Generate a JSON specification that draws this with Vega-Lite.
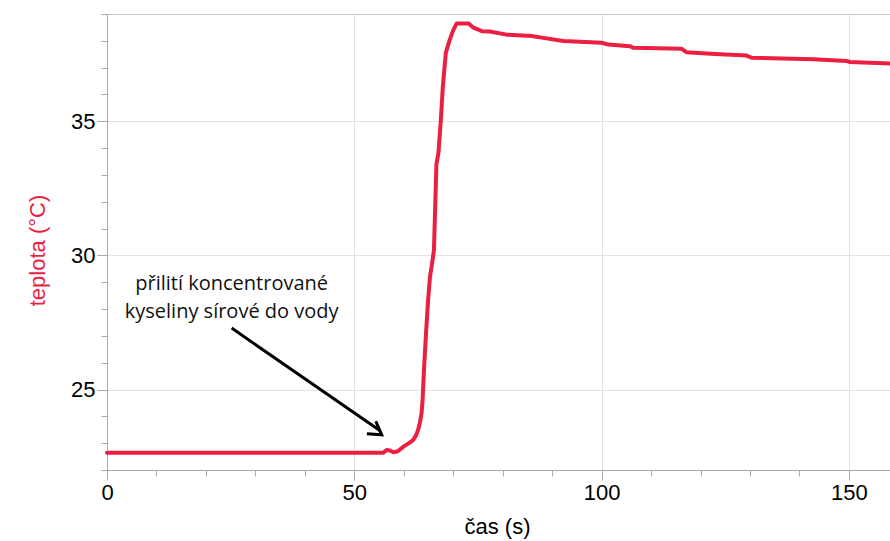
{
  "$schema": "https://vega.github.io/schema/vega-lite/v6.json",
  "autosize": "none",
  "width": 783,
  "height": 456,
  "padding": {"left": 107, "top": 14, "right": 0, "bottom": 71},
  "background": "white",
  "config": {
    "view": {"stroke": "#c8c8c8", "strokeWidth": 1},
    "axis": {
      "labelFont": "Liberation Sans",
      "titleFont": "Liberation Sans",
      "labelFontSize": 22,
      "titleFontSize": 22,
      "labelColor": "#000000",
      "labelFlush": false,
      "domainColor": "#a8a8a8",
      "tickColor": "#a8a8a8",
      "gridColor": "#e2e2e2",
      "titleFontWeight": "normal"
    }
  },
  "resolve": {"axis": {"x": "independent", "y": "independent"}},
  "layer": [
    {
      "data": {"values": [
        {"t": 0, "temp": 22.64},
        {"t": 55.8, "temp": 22.64},
        {"t": 56.6, "temp": 22.75},
        {"t": 57.3, "temp": 22.72},
        {"t": 57.9, "temp": 22.66},
        {"t": 58.8, "temp": 22.7},
        {"t": 60.0, "temp": 22.88},
        {"t": 61.2, "temp": 23.02},
        {"t": 61.9, "temp": 23.12},
        {"t": 62.5, "temp": 23.3},
        {"t": 62.9, "temp": 23.5},
        {"t": 63.3, "temp": 23.8},
        {"t": 63.6, "temp": 24.13},
        {"t": 63.8, "temp": 24.6},
        {"t": 63.9, "temp": 25.0},
        {"t": 64.1, "temp": 25.8},
        {"t": 64.5, "temp": 27.1},
        {"t": 64.9, "temp": 28.3},
        {"t": 65.3, "temp": 29.2},
        {"t": 65.8, "temp": 29.8},
        {"t": 66.1, "temp": 30.2},
        {"t": 66.35, "temp": 31.8},
        {"t": 66.6, "temp": 33.4},
        {"t": 67.0, "temp": 33.8},
        {"t": 67.5, "temp": 35.06},
        {"t": 67.9, "temp": 36.3},
        {"t": 68.5, "temp": 37.55},
        {"t": 69.2, "temp": 37.99},
        {"t": 70.0, "temp": 38.4},
        {"t": 70.7, "temp": 38.65},
        {"t": 73.1, "temp": 38.65},
        {"t": 74.1, "temp": 38.49},
        {"t": 75.8, "temp": 38.36},
        {"t": 77.4, "temp": 38.35},
        {"t": 80.8, "temp": 38.23},
        {"t": 84.9, "temp": 38.19},
        {"t": 85.5, "temp": 38.19},
        {"t": 88.2, "temp": 38.11},
        {"t": 92.3, "temp": 37.99},
        {"t": 100.0, "temp": 37.93},
        {"t": 101.4, "temp": 37.86},
        {"t": 105.7, "temp": 37.8},
        {"t": 106.4, "temp": 37.74},
        {"t": 116.2, "temp": 37.7},
        {"t": 117.2, "temp": 37.57},
        {"t": 122.9, "temp": 37.51},
        {"t": 129.3, "temp": 37.45},
        {"t": 130.3, "temp": 37.37},
        {"t": 142.8, "temp": 37.31},
        {"t": 149.5, "temp": 37.25},
        {"t": 150.2, "temp": 37.21},
        {"t": 158.3, "temp": 37.15}
      ]},
      "mark": {"type": "line", "color": "#ea1f41", "strokeWidth": 4, "strokeJoin": "round", "strokeCap": "round"},
      "encoding": {
        "x": {
          "field": "t", "type": "quantitative",
          "scale": {"domain": [0, 158.3], "nice": false, "zero": false},
          "axis": {
            "orient": "bottom",
            "title": "čas (s)",
            "titleColor": "#000000",
            "values": [0, 50, 100, 150],
            "tickSize": 10,
            "grid": true,
            "labelPadding": 2,
            "titleX": 390,
            "titleY": 63,
            "titleAlign": "center",
            "titleBaseline": "alphabetic"
          }
        },
        "y": {
          "field": "temp", "type": "quantitative",
          "scale": {"domain": [22, 39], "nice": false, "zero": false},
          "axis": {
            "orient": "left",
            "title": "teplota (°C)",
            "titleColor": "#ea1f41",
            "values": [25, 30, 35],
            "tickSize": 10,
            "grid": true,
            "labelPadding": 2,
            "titleAngle": -90,
            "titleX": -70,
            "titleY": 236,
            "titleAlign": "center",
            "titleBaseline": "middle"
          }
        }
      }
    },
    {
      "data": {"values": [{"x1": 25.2, "y1": 27.29, "x2": 55.3, "y2": 23.45}]},
      "mark": {"type": "rule", "color": "#000000", "strokeWidth": 3},
      "encoding": {
        "x": {"field": "x1", "type": "quantitative", "scale": {"domain": [0, 158.3], "nice": false, "zero": false},
          "axis": {"orient": "bottom", "title": null, "labels": false, "domain": false, "grid": false, "tickSize": 6,
            "values": [10, 20, 30, 40, 60, 70, 80, 90, 110, 120, 130, 140]}},
        "y": {"field": "y1", "type": "quantitative", "scale": {"domain": [22, 39], "nice": false, "zero": false},
          "axis": {"orient": "left", "title": null, "labels": false, "domain": false, "grid": false, "tickSize": 6,
            "values": [22, 23, 24, 26, 27, 28, 29, 31, 32, 33, 34, 36, 37, 38, 39]}},
        "x2": {"field": "x2"},
        "y2": {"field": "y2"}
      }
    },
    {
      "data": {"values": [{"x": 55.54, "y": 23.31}]},
      "mark": {"type": "point", "shape": "M-1,-0.6L0,0L-1,0.6", "filled": false, "stroke": "#000000", "strokeWidth": 3, "size": 650, "angle": 35.4, "opacity": 1},
      "encoding": {
        "x": {"field": "x", "type": "quantitative", "scale": {"domain": [0, 158.3], "nice": false, "zero": false}, "axis": null},
        "y": {"field": "y", "type": "quantitative", "scale": {"domain": [22, 39], "nice": false, "zero": false}, "axis": null}
      }
    },
    {
      "data": {"values": [
        {"x": 25.2, "y": 28.72, "label": "přilití koncentrované"},
        {"x": 25.2, "y": 27.68, "label": "kyseliny sírové do vody"}
      ]},
      "mark": {"type": "text", "font": "Open Sans", "fontSize": 20, "align": "center", "baseline": "alphabetic", "color": "#111111"},
      "encoding": {
        "x": {"field": "x", "type": "quantitative", "scale": {"domain": [0, 158.3], "nice": false, "zero": false}, "axis": null},
        "y": {"field": "y", "type": "quantitative", "scale": {"domain": [22, 39], "nice": false, "zero": false}, "axis": null},
        "text": {"field": "label"}
      }
    }
  ]
}
